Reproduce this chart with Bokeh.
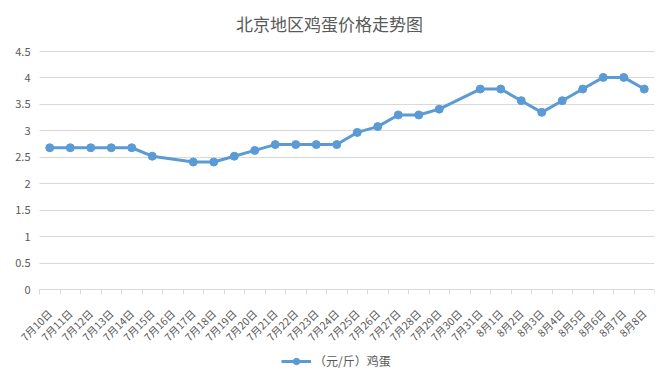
from bokeh.plotting import figure
from bokeh.models import FixedTicker, Legend, LegendItem, ColumnDataSource, Range1d, LinearAxis, Grid
from bokeh.embed import file_html
from bokeh.resources import INLINE
import math

title_text = "北京地区鸡蛋价格走势图"
series_name = "（元/斤）鸡蛋"
dates = ["7月10日", "7月11日", "7月12日", "7月13日", "7月14日", "7月15日", "7月16日",
         "7月17日", "7月18日", "7月19日", "7月20日", "7月21日", "7月22日", "7月23日",
         "7月24日", "7月25日", "7月26日", "7月27日", "7月28日", "7月29日", "7月30日",
         "7月31日", "8月1日", "8月2日", "8月3日", "8月4日", "8月5日", "8月6日", "8月7日", "8月8日"]
prices = [2.68, 2.68, 2.68, 2.68, 2.68, 2.52, None,
          2.41, 2.41, 2.52, 2.63, 2.74, 2.74, 2.74,
          2.74, 2.97, 3.08, 3.30, 3.30, 3.41, None,
          3.79, 3.79, 3.57, 3.35, 3.57, 3.79, 4.01, 4.01, 3.79]
y_ticks = [0, 0.5, 1, 1.5, 2, 2.5, 3, 3.5, 4, 4.5]
y_tick_labels = ["0", "0.5", "1", "1.5", "2", "2.5", "3", "3.5", "4", "4.5"]

BLUE = "#5B9BD5"
GREY_TXT = "#595959"
GRID = "#D9D9D9"
FONT = "Noto Sans CJK SC"

n = len(dates)
centers = [i + 0.5 for i in range(n)]
xs = [centers[i] for i, v in enumerate(prices) if v is not None]
ys = [v for v in prices if v is not None]
src = ColumnDataSource(dict(x=xs, y=ys))

# Plot area of the value chart: 615 x 238 px. The frame is made larger (left,
# top and below) so the axis labels and the legend can live inside it.
PLOT_W, PLOT_H = 615, 238
PAD_L, PAD_B, PAD_T = 35, 83, 8
px_x = PLOT_W / n
px_y = PLOT_H / 4.5
x_start = -PAD_L / px_x
y_start = -PAD_B / px_y
y_end = 4.5 + PAD_T / px_y

p = figure(frame_width=PLOT_W + PAD_L, frame_height=PLOT_H + PAD_B + PAD_T,
           output_backend="svg", toolbar_location=None,
           x_range=Range1d(x_start, n), y_range=Range1d(y_start, y_end),
           x_axis_location=None, y_axis_location=None,
           min_border_left=4, min_border_right=16, min_border_top=51 - PAD_T, min_border_bottom=8)
p.outline_line_color = None
p.background_fill_color = "white"
p.border_fill_color = "white"
for g in p.select(type=Grid):
    g.visible = False

p.title.text = title_text
p.title.align = "center"
p.title.text_font = FONT
p.title.text_font_size = "17px"
p.title.text_font_style = "normal"
p.title.text_color = GREY_TXT
p.title.standoff = 15

# y axis fixed at x = 0; its ticks reach across the plot as gridlines
ya = LinearAxis(fixed_location=0, level="underlay")
ya.ticker = FixedTicker(ticks=y_ticks)
ya.major_label_overrides = {t: l for t, l in zip(y_ticks, y_tick_labels)}
ya.axis_line_color = None
ya.major_tick_line_color = GRID
ya.major_tick_in = PLOT_W
ya.major_tick_out = 0
ya.minor_tick_line_color = None
ya.major_label_text_font = FONT
ya.major_label_text_font_size = "11px"
ya.major_label_text_color = GREY_TXT
ya.major_label_standoff = 9
p.add_layout(ya, "left")

# x axis fixed at value 0
xa = LinearAxis(fixed_location=0, bounds=(0, n), level="underlay")
xa.ticker = FixedTicker(ticks=centers, minor_ticks=list(range(n + 1)))
xa.major_label_overrides = {c: d for c, d in zip(centers, dates)}
xa.major_label_orientation = math.pi / 4
xa.major_tick_line_color = None
xa.major_tick_out = 6
xa.minor_tick_line_color = GRID
xa.minor_tick_in = 0
xa.minor_tick_out = 5
xa.axis_line_color = GRID
xa.major_label_text_font = FONT
xa.major_label_text_font_size = "10.5px"
xa.major_label_text_color = GREY_TXT
xa.major_label_standoff = 16
p.add_layout(xa, "below")

r_line = p.line("x", "y", source=src, line_color=BLUE, line_width=3)
r_pts = p.scatter("x", "y", source=src, size=8, fill_color=BLUE, line_color=BLUE)

legend = Legend(items=[LegendItem(label=series_name, renderers=[r_line, r_pts])],
                orientation="horizontal", location=(PAD_L + 242, 3),
                glyph_width=30, glyph_height=16, label_text_font=FONT, label_text_font_size="12px",
                label_text_color=GREY_TXT, border_line_color=None, label_height=16,
                background_fill_alpha=0, margin=0, padding=0, label_standoff=3)
p.add_layout(legend, "center")

open("out.html", "w").write(file_html(p, INLINE))
